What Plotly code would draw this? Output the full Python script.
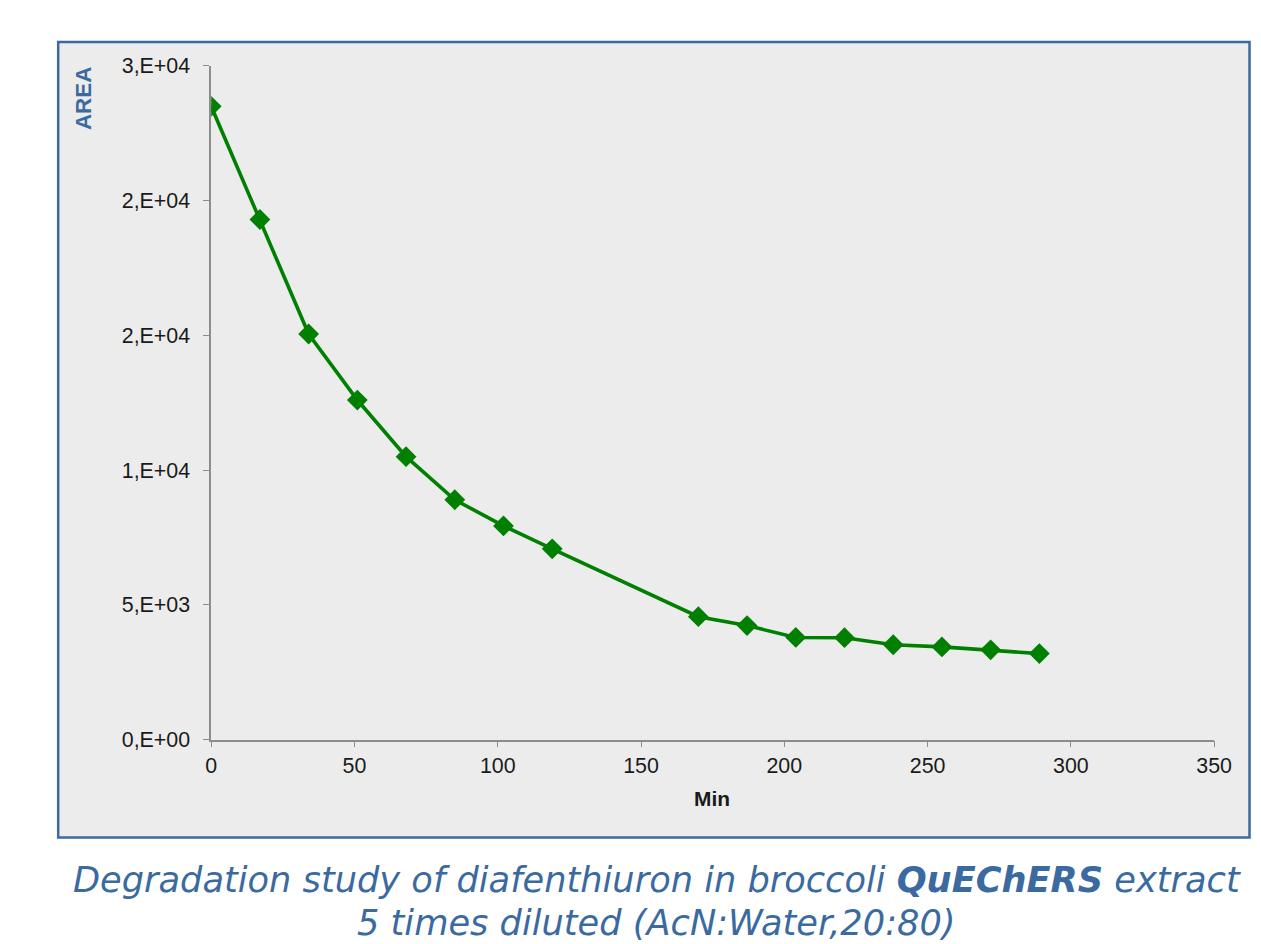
import plotly.graph_objs as go

W, H = 1261, 944

# data
minutes = [0, 17, 34, 51, 68, 85, 102, 119, 170, 187, 204, 221, 238, 255, 272, 289]
area = [23500, 19300, 15050, 12600, 10500, 8900, 7930, 7080,
        4560, 4230, 3790, 3780, 3520, 3440, 3330, 3190]

y_tickvals = [0, 5000, 10000, 15000, 20000, 25000]
y_ticktext = ["0,E+00", "5,E+03", "1,E+04", "2,E+04", "2,E+04", "3,E+04"]
x_tickvals = [0, 50, 100, 150, 200, 250, 300, 350]

caption_1 = "Degradation study of diafenthiuron in broccoli <b>QuEChERS</b> extract"
caption_2 = "5 times diluted (AcN:Water,20:80)"

BLUE = "#3a6aa0"
GREEN = "#008000"
AXIS = "#8c8c8c"

# the page shot comes out slightly shrunk and shifted, so map screen pixels back
SX, OX = 0.981, 12.8
SY, OY = 0.975, 20.1


def px(x):
    return min((x - OX) / SX / W, 0.9988)


def py(y):
    return 1 - (y - OY) / SY / H


def fs(size):
    return round(size / SX, 1)


fig = go.Figure()
fig.add_trace(
    go.Scatter(
        x=minutes,
        y=area,
        mode="lines+markers",
        line=dict(color=GREEN, width=3.6),
        marker=dict(symbol="diamond", size=16, color=GREEN),
        showlegend=False,
    )
)

tick_font = dict(family="Liberation Sans, Arial, sans-serif", size=fs(21), color="#1a1a1a")
caption_font = dict(family="DejaVu Sans, sans-serif", size=fs(34.5), color=BLUE)

fig.update_layout(
    width=W,
    height=H,
    margin=dict(l=0, r=0, t=0, b=0),
    paper_bgcolor="white",
    plot_bgcolor="rgba(0,0,0,0)",
    xaxis=dict(
        domain=[px(210), px(1213)],
        range=[0, 350],
        tickvals=x_tickvals,
        showgrid=False,
        zeroline=False,
        showline=True,
        linecolor=AXIS,
        linewidth=1.5,
        ticks="outside",
        ticklen=6,
        tickcolor=AXIS,
        tickfont=tick_font,
    ),
    yaxis=dict(
        domain=[py(740), py(66)],
        range=[0, 25000],
        tickvals=y_tickvals,
        ticktext=y_ticktext,
        showgrid=False,
        zeroline=False,
        showline=True,
        linecolor=AXIS,
        linewidth=1.5,
        ticks="outside",
        ticklen=6,
        tickcolor=AXIS,
        tickfont=tick_font,
        ticklabelstandoff=9,
    ),
    shapes=[
        dict(
            type="rect", xref="paper", yref="paper",
            x0=px(57), x1=px(1258), y0=py(838), y1=py(42),
            fillcolor="#ececec", line=dict(color=BLUE, width=2.5),
            layer="below",
        )
    ],
    annotations=[
        dict(
            text="<b>AREA</b>", xref="paper", yref="paper",
            x=px(83), y=py(99), textangle=-90, showarrow=False,
            xanchor="center", yanchor="middle",
            font=dict(family="Liberation Sans, Arial, sans-serif", size=fs(22), color=BLUE),
        ),
        dict(
            text="<b>Min</b>", xref="paper", yref="paper",
            x=px(711), y=py(799), showarrow=False,
            xanchor="center", yanchor="middle",
            font=dict(family="Liberation Sans, Arial, sans-serif", size=fs(20.5), color="#1a1a1a"),
        ),
        dict(
            text="<i>" + caption_1 + "</i>", xref="paper", yref="paper",
            x=px(656), y=py(880), showarrow=False,
            xanchor="center", yanchor="middle",
            font=caption_font,
        ),
        dict(
            text="<i>" + caption_2 + "</i>", xref="paper", yref="paper",
            x=px(655), y=py(923), showarrow=False,
            xanchor="center", yanchor="middle",
            font=caption_font,
        ),
    ],
)

fig.write_html("out.html")
